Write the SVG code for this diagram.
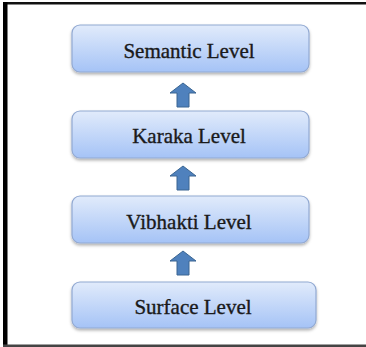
<svg xmlns="http://www.w3.org/2000/svg" width="366" height="347" viewBox="0 0 366 347">
<defs>
<linearGradient id="g" x1="0" y1="0" x2="0" y2="1">
<stop offset="0" stop-color="#e1ebfb"/>
<stop offset="1" stop-color="#a5c3f6"/>
</linearGradient>
<filter id="sh" x="-10%" y="-20%" width="120%" height="150%">
<feDropShadow dx="0" dy="2" stdDeviation="1.5" flood-color="#000" flood-opacity="0.3"/>
</filter>
<path id="arr" d="M0,0 L13,10 L6,10 L6,24 L-6,24 L-6,10 L-13,10 Z"/>
</defs>
<style>
.box{fill:url(#g);stroke:#92a9d2;stroke-width:1.2;filter:url(#sh)}
.lbl{font-family:"Liberation Serif","Times New Roman",serif;font-size:21px;fill:#1a1a1a;stroke:#1a1a1a;stroke-width:0.35;text-anchor:middle}
.arrow{fill:#4f81bd;stroke:#3a6592;stroke-width:1}
</style>
<rect width="366" height="347" fill="#fff"/>
<g id="frame">
<rect x="3" y="2" width="363" height="2.5" fill="#111"/>
<rect x="3" y="2" width="4.5" height="345" fill="#000"/>
<rect x="3" y="344.5" width="363" height="2.5" fill="#444"/>
</g>
<g id="connectors">
<use href="#arr" class="arrow" x="183" y="83"/>
<use href="#arr" class="arrow" x="183" y="166"/>
<use href="#arr" class="arrow" x="183" y="251"/>
</g>
<g id="semantic">
<rect class="box" x="72" y="25" width="237" height="47" rx="8"/>
<text class="lbl" x="189" y="58">Semantic Level</text>
</g>
<g id="karaka">
<rect class="box" x="72" y="111" width="237" height="47" rx="8"/>
<text class="lbl" x="189" y="143">Karaka Level</text>
</g>
<g id="vibhakti">
<rect class="box" x="72" y="196" width="237" height="47" rx="8"/>
<text class="lbl" x="189" y="229">Vibhakti Level</text>
</g>
<g id="surface">
<rect class="box" x="72" y="282" width="244" height="46" rx="8"/>
<text class="lbl" x="193" y="314">Surface Level</text>
</g>
</svg>
